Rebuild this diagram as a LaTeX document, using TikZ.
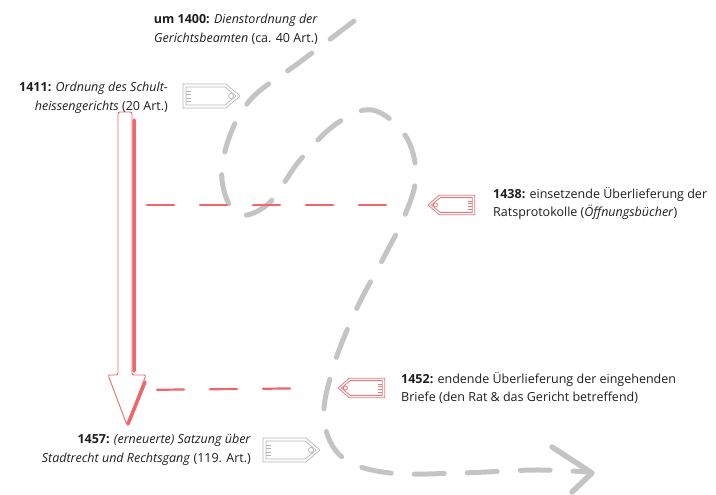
\documentclass[tikz,border=0pt]{standalone}
\usepackage{fontspec}
\setmainfont{Open Sans}
\usepackage{tikz}
\usetikzlibrary{arrows.meta,calc}
\definecolor{arrowred}{HTML}{F0666A}
\definecolor{tagred}{HTML}{E8787A}
\definecolor{pathgrey}{HTML}{C4C4C4}
\definecolor{taggrey}{HTML}{B4B4B4}
\definecolor{ink}{HTML}{1E1E1E}

\begin{document}
\begin{tikzpicture}[x=1pt,y=-1pt,
  lbl/.style={inner sep=0pt, text=ink, font=\fontsize{12.5}{18.5}\selectfont},
  greytag/.style={draw=taggrey, line width=.7pt},
  redtag/.style={draw=tagred, line width=.8pt},
  reddash/.style={draw=arrowred, line width=2.2pt, line cap=round, dash pattern=on 27pt off 26pt},
  greypath/.style={draw=pathgrey, line width=5pt, line cap=round},
  tag/.pic={
    \draw[pic actions] (0,0) -- (-14,-12) -- (-57,-12) -- (-57,12) -- (-14,12) -- cycle;
    \draw[pic actions] (-4,0) -- (-15,-9) -- (-54,-9) -- (-54,9) -- (-15,9) -- cycle;
    \draw[pic actions] (-9,0) circle (2.5);
    \foreach \k in {-5,-1.5,2,5.5} \draw[pic actions] (-54,\k) -- (-49,\k);
    \coordinate (-tip) at (0,0);
  }]
\useasboundingbox (0,0) rectangle (716,495);

% grey dashed path
\coordinate (pend) at (588,472);
\draw[greypath, dash pattern=on 30pt off 23pt] plot[smooth, tension=.6] coordinates {
  (354,21) (300,62) (252,98) (229,138) (222,180) (237,214) (268,204) (300,160)
  (336,124) (372,110) (405,135) (416,175) (405,215) (384,257) (356,310) (333,368)
  (324,420) (343,458) (390,473) (460,473) (535,470) (pend)};
\draw[greypath, line width=5.5pt, line join=round] ($(pend)+(-36,-25)$) -- ($(pend)+(4,1)$) -- ($(pend)+(-16,20)$);

% red arrow
\draw[arrowred, line width=.9pt, rounded corners=2pt]
  (118,112) -- (118,375) -- (108,375) -- (127,425) -- (146,375) -- (132,375) -- (132,112) -- cycle;
\draw[arrowred, line width=3.5pt, line cap=round, line join=round]
  (134,120) -- (134,371) (145,382) -- (128,424);
\coordinate (shaftA) at (133,205);
\coordinate (shaftB) at (133,390);

% tags
\pic (tagA) [greytag] at (240,96) {tag};
\pic (tagB) [greytag] at (320,450) {tag};
\pic (tagC) [redtag, xscale=-1, scale=.82] at (428,205) {tag};
\pic (tagD) [redtag, xscale=-1, scale=.82] at (338,388) {tag};

% connectors
\draw[reddash, shorten <=14pt, shorten >=31pt] (shaftA) -- (tagC-tip);
\draw[reddash, shorten <=24pt, shorten >=28pt] (shaftB) -- (tagD-tip);

% labels
\node[lbl, anchor=north east, align=right] (t1400) at (318,14)
  {\textbf{um 1400:} \textit{Dienstordnung der}\\\textit{Gerichtsbeamten} (ca. 40 Art.)};
\node[lbl, anchor=north east, align=right] (t1411) at (168,82)
  {\textbf{1411:} \textit{Ordnung des Schult-}\\\textit{heissengerichts} (20 Art.)};
\node[lbl, anchor=north west, align=left] (t1438) at (493,187)
  {\textbf{1438:} einsetzende Überlieferung der\\Ratsprotokolle (\textit{Öffnungsbücher})};
\node[lbl, anchor=north west, align=left] (t1452) at (401,372)
  {\textbf{1452:} endende Überlieferung der eingehenden\\Briefe (den Rat \& das Gericht betreffend)};
\node[lbl, anchor=north east, align=right] (t1457) at (251,434)
  {\textbf{1457:} \textit{(erneuerte) Satzung über}\\\textit{Stadtrecht und Rechtsgang} (119. Art.)};
\end{tikzpicture}
\end{document}
